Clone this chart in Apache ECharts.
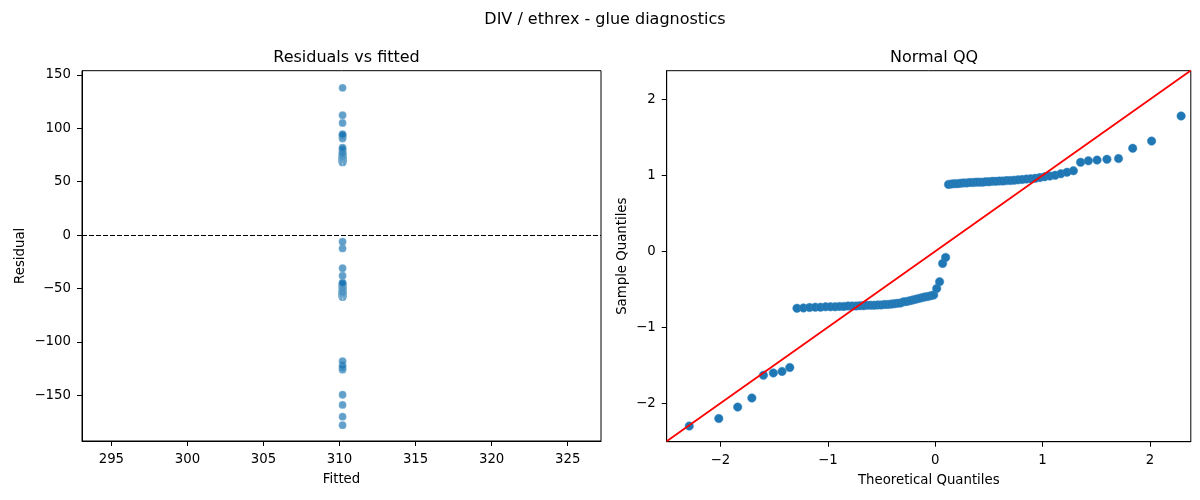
<!DOCTYPE html>
<html>
<head>
<meta charset="utf-8">
<script src="https://cdn.jsdelivr.net/npm/echarts@6/dist/echarts.min.js"></script>
<style>
  html, body { margin: 0; padding: 0; background: #fff; }
  #main { width: 1200px; height: 500px; }
</style>
</head>
<body>
<div id="main"></div>
<script>
// fitted value is the same for every observation
var fittedValue = 310.2;

// residuals (overlapping dots give the darker spots)
var residuals = [
    -178, -170, -159, -149.5, -126, -124, -122, -118,
    -58, -57.7, -57.3, -56.9, -56.9, -56.5, -56.5, -56.5, -56.1, -56.1,
    -55.7, -55.7, -55.7, -55.3, -55.3, -55, -55, -55, -54.6, -54.6,
    -54.2, -54.2, -53.8, -53.4, -53, -52.6, -51.5, -51.1, -50.3, -49.5,
    -48.8, -48, -47.2, -46.4, -46, -45.3, -44.5,
    -38, -31, -12.4, -6.2,
    68.1, 68.5, 68.9, 68.9, 69.3, 69.7, 69.7, 70, 70, 70.4, 70.4, 70.4,
    70.8, 70.8, 71.2, 71.2, 71.6, 71.6, 72, 72, 72.4, 72.8, 73.1, 73.5,
    73.9, 74.3, 75.1, 75.9, 76.6, 77.4, 79, 80.5, 82,
    90.5, 92, 93, 93.7, 94.5, 105, 112.3, 138
];

// normal QQ: theoretical vs sample quantiles
var theoretical = [
    -2.290, -2.015, -1.839, -1.707, -1.599, -1.507, -1.426, -1.354,
    -1.287, -1.227, -1.170, -1.117, -1.068, -1.020, -0.975, -0.932, -0.890,
    -0.850, -0.811, -0.773, -0.736, -0.701, -0.666, -0.632, -0.599, -0.566,
    -0.534, -0.502, -0.471, -0.441, -0.410, -0.381, -0.351, -0.322, -0.293,
    -0.264, -0.236, -0.208, -0.180, -0.152, -0.124, -0.097, -0.069, -0.041,
    -0.014,
    0.014, 0.041, 0.069, 0.097,
    0.124, 0.152, 0.180, 0.208, 0.236, 0.264, 0.293, 0.322, 0.351, 0.381,
    0.410, 0.441, 0.471, 0.502, 0.534, 0.566, 0.599, 0.632, 0.666, 0.701,
    0.736, 0.773, 0.811, 0.850, 0.890, 0.932, 0.975, 1.020, 1.068, 1.117,
    1.170, 1.227, 1.287,
    1.354, 1.426, 1.507, 1.599, 1.707, 1.839, 2.015, 2.290
];
var sample = [
    -2.30, -2.20, -2.05, -1.93, -1.63, -1.60, -1.58, -1.53,
    -0.75, -0.745, -0.74, -0.735, -0.735, -0.73, -0.73, -0.73, -0.725,
    -0.725, -0.72, -0.72, -0.72, -0.715, -0.715, -0.71, -0.71, -0.71,
    -0.705, -0.705, -0.70, -0.70, -0.695, -0.69, -0.685, -0.68, -0.665,
    -0.66, -0.65, -0.64, -0.63, -0.62, -0.61, -0.60, -0.595, -0.585,
    -0.575,
    -0.49, -0.40, -0.16, -0.08,
    0.88, 0.885, 0.89, 0.89, 0.895, 0.90, 0.90, 0.905, 0.905, 0.91,
    0.91, 0.91, 0.915, 0.915, 0.92, 0.92, 0.925, 0.925, 0.93, 0.93,
    0.935, 0.94, 0.945, 0.95, 0.955, 0.96, 0.97, 0.98, 0.99, 1.00,
    1.02, 1.04, 1.06,
    1.17, 1.19, 1.20, 1.21, 1.22, 1.355, 1.45, 1.78
];
// 45 degree reference line end points
var refLine = [-2.5, 2.38];

// tick labels
var fittedTicks = [295, 300, 305, 310, 315, 320, 325];
var residualTicks = [-150, -100, -50, 0, 50, 100, 150];
var qqTicks = [-2, -1, 0, 1, 2];

var FONT = 'DejaVu Sans';

function minus(v){
    return String(v).replace('-', '\u2212');
}

function valueAxis(gridIndex, min, max, ticks, name, nameGap, margin){
    return {
        type:'value',
        gridIndex:gridIndex,
        min:min,
        max:max,
        name:name,
        nameLocation:'middle',
        nameGap:nameGap,
        nameTextStyle:{ color:'#000', fontFamily:FONT, fontSize:13.3 },
        axisLine:{ show:true, onZero:false, lineStyle:{ color:'#000', width:1 } },
        axisTick:{ show:true, inside:false, length:5, customValues:ticks, lineStyle:{ color:'#000', width:1 } },
        axisLabel:{ show:true, margin:margin, customValues:ticks, color:'#000', fontFamily:FONT, fontSize:13.3, formatter:minus },
        splitLine:{ show:false }
    };
}

var chart = echarts.init(document.getElementById('main'), null, { renderer:'canvas' });

var xLeft = valueAxis(0, 293.07, 327.19, fittedTicks, 'Fitted', 32, 12);
var yLeft = valueAxis(0, -192.8, 154.0, residualTicks, 'Residual', 55, 11);
yLeft.nameRotate = 90;
var xRight = valueAxis(1, -2.5, 2.38, qqTicks, 'Theoretical Quantiles', 32, 12);
var yRight = valueAxis(1, -2.505, 2.376, qqTicks, 'Sample Quantiles', 38, 11);
yRight.nameRotate = 90;

chart.setOption({
    backgroundColor:'#fff',
    animation:false,
    title:[
        { text:'DIV / ethrex - glue diagnostics', left:600, top:7, textAlign:'center',
          textStyle:{ color:'#000', fontFamily:FONT, fontSize:16, fontWeight:'normal' } },
        { text:'Residuals vs fitted', left:341.5, top:45, textAlign:'center',
          textStyle:{ color:'#000', fontFamily:FONT, fontSize:16, fontWeight:'normal' } },
        { text:'Normal QQ', left:929, top:45, textAlign:'center',
          textStyle:{ color:'#000', fontFamily:FONT, fontSize:16, fontWeight:'normal' } }
    ],
    grid:[
        { left:82, right:599, top:70.7, bottom:59, show:true, borderColor:'#000', borderWidth:1, backgroundColor:'transparent' },
        { left:666.7, right:9.2, top:70.7, bottom:58.3, show:true, borderColor:'#000', borderWidth:1, backgroundColor:'transparent' }
    ],
    xAxis:[xLeft, xRight],
    yAxis:[yLeft, yRight],
    series:[
        {
            type:'scatter',
            xAxisIndex:0,
            yAxisIndex:0,
            symbol:'circle',
            symbolSize:7.8,
            itemStyle:{ color:'#1f77b4', opacity:0.7, borderColor:'#fff', borderWidth:0.3 },
            data:residuals.map(function(r){ return [fittedValue, r]; }),
            markLine:{
                silent:true,
                symbol:'none',
                label:{ show:false },
                lineStyle:{ color:'#000', type:[5, 2], width:1 },
                data:[{ yAxis:0 }],
                z:5
            }
        },
        {
            type:'scatter',
            xAxisIndex:1,
            yAxisIndex:1,
            symbol:'circle',
            symbolSize:8.5,
            itemStyle:{ color:'#1f77b4', opacity:1, borderColor:'#3a89c2', borderWidth:0.5 },
            data:theoretical.map(function(t, i){ return [t, sample[i]]; })
        },
        {
            type:'line',
            xAxisIndex:1,
            yAxisIndex:1,
            symbol:'none',
            z:5,
            lineStyle:{ color:'#ff0000', width:1.8 },
            data:refLine.map(function(v){ return [v, v]; })
        }
    ]
});
</script>
</body>
</html>
